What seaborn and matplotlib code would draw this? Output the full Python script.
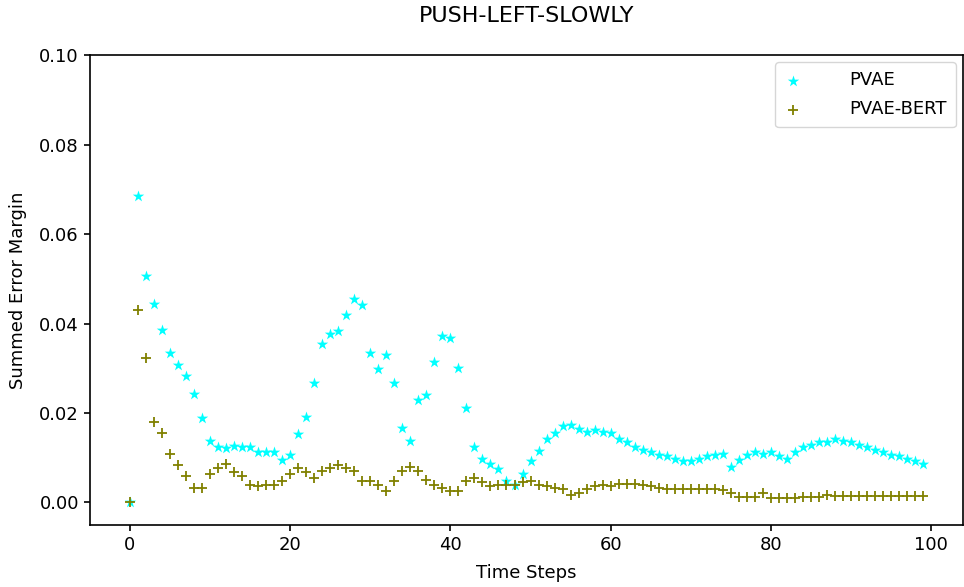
"""PVAE vs PVAE-BERT summed error margin over time steps (push-left-slowly)."""
import matplotlib

matplotlib.use("Agg")
import matplotlib.pyplot as plt
import numpy as np
import pandas as pd
import seaborn as sns

TIME_STEPS = list(range(100))

PVAE = [
    0.0000, 0.0685, 0.0507, 0.0444, 0.0386, 0.0335, 0.0308, 0.0283, 0.0243, 0.0188,
    0.0138, 0.0125, 0.0121, 0.0127, 0.0125, 0.0125, 0.0112, 0.0112, 0.0112, 0.0094,
    0.0105, 0.0152, 0.0192, 0.0268, 0.0355, 0.0377, 0.0384, 0.0420, 0.0455, 0.0442,
    0.0333, 0.0299, 0.0330, 0.0266, 0.0167, 0.0138, 0.0230, 0.0241, 0.0315, 0.0371,
    0.0368, 0.0301, 0.0212, 0.0123, 0.0098, 0.0087, 0.0074, 0.0049, 0.0038, 0.0063,
    0.0092, 0.0116, 0.0141, 0.0156, 0.0170, 0.0174, 0.0165, 0.0158, 0.0161, 0.0158,
    0.0156, 0.0141, 0.0134, 0.0123, 0.0118, 0.0112, 0.0107, 0.0103, 0.0096, 0.0092,
    0.0092, 0.0097, 0.0103, 0.0107, 0.0109, 0.0080, 0.0094, 0.0107, 0.0112, 0.0109,
    0.0112, 0.0103, 0.0096, 0.0112, 0.0123, 0.0129, 0.0134, 0.0136, 0.0141, 0.0138,
    0.0134, 0.0129, 0.0125, 0.0118, 0.0112, 0.0107, 0.0103, 0.0096, 0.0092, 0.0085,
]

PVAE_BERT = [
    0.0000, 0.0431, 0.0324, 0.0179, 0.0156, 0.0109, 0.0083, 0.0058, 0.0033, 0.0033,
    0.0063, 0.0076, 0.0085, 0.0069, 0.0058, 0.0040, 0.0036, 0.0040, 0.0040, 0.0047,
    0.0064, 0.0078, 0.0069, 0.0054, 0.0071, 0.0076, 0.0083, 0.0078, 0.0071, 0.0047,
    0.0047, 0.0040, 0.0025, 0.0049, 0.0071, 0.0080, 0.0071, 0.0051, 0.0038, 0.0033,
    0.0025, 0.0025, 0.0049, 0.0054, 0.0046, 0.0036, 0.0038, 0.0038, 0.0038, 0.0045,
    0.0049, 0.0040, 0.0036, 0.0033, 0.0031, 0.0016, 0.0022, 0.0029, 0.0036, 0.0040,
    0.0036, 0.0042, 0.0042, 0.0042, 0.0038, 0.0036, 0.0033, 0.0031, 0.0031, 0.0031,
    0.0031, 0.0029, 0.0029, 0.0029, 0.0027, 0.0020, 0.0013, 0.0013, 0.0013, 0.0020,
    0.0009, 0.0009, 0.0009, 0.0009, 0.0013, 0.0013, 0.0013, 0.0016, 0.0015, 0.0015,
    0.0015, 0.0015, 0.0015, 0.0015, 0.0015, 0.0015, 0.0015, 0.0015, 0.0015, 0.0015,
]


def main() -> None:
    df = pd.DataFrame({"step": TIME_STEPS, "PVAE": PVAE, "PVAE-BERT": PVAE_BERT})

    fig, ax = plt.subplots(figsize=(9.64, 5.87), dpi=100)
    fig.subplots_adjust(left=0.0934, right=0.999, top=0.906, bottom=0.106)

    sns.scatterplot(data=df, x="step", y="PVAE", marker="*", color="cyan",
                    s=75, linewidth=0, label="PVAE", ax=ax)
    sns.scatterplot(data=df, x="step", y="PVAE-BERT", marker="+", color="olive",
                    s=60, linewidth=1.3, label="PVAE-BERT", ax=ax)

    ax.set_ylim(-0.005, 0.1)
    ax.set_yticks(np.arange(0, 0.101, 0.02))
    ax.tick_params(labelsize=13, width=1.2, length=4.5)
    for spine in ax.spines.values():
        spine.set_linewidth(1.2)
    ax.set_xlabel("Time Steps", fontsize=13, labelpad=7)
    ax.set_ylabel("Summed Error Margin", fontsize=13, labelpad=9)
    ax.set_title("PUSH-LEFT-SLOWLY", fontsize=16, pad=24)
    ax.legend(loc="upper right", fontsize=13, borderpad=0.5, labelspacing=0.6,
              handlelength=1.0, handletextpad=2.6, borderaxespad=0.4)

    fig.savefig("out.png", dpi=100)
    plt.close(fig)


if __name__ == "__main__":
    main()
